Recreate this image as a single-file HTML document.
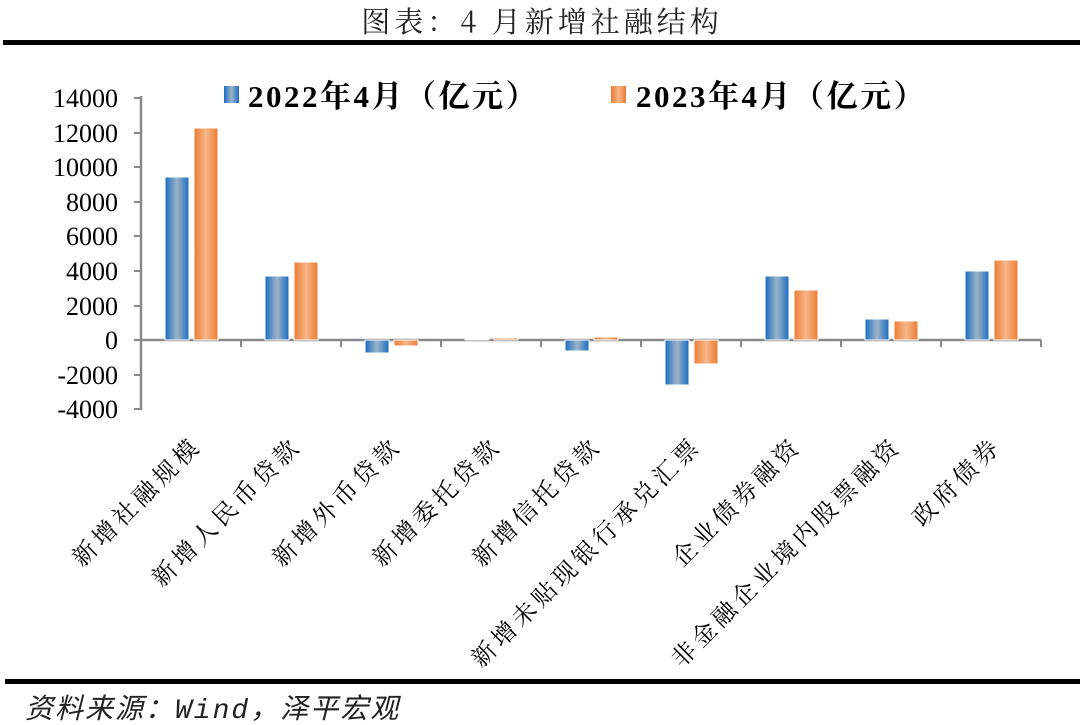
<!DOCTYPE html>
<html><head><meta charset="utf-8"><style>
html,body{margin:0;padding:0;background:#fff;}
svg{display:block;}
</style></head><body>
<svg width="1080" height="725" viewBox="0 0 1080 725" xmlns="http://www.w3.org/2000/svg">
<defs>
<linearGradient id="gb" x1="0" x2="1" y1="0" y2="0">
<stop offset="0" stop-color="#1a6cc4"/><stop offset="0.5" stop-color="#9db3c6"/><stop offset="1" stop-color="#1a6cc4"/>
</linearGradient>
<linearGradient id="go" x1="0" x2="1" y1="0" y2="0">
<stop offset="0" stop-color="#ed7b32"/><stop offset="0.5" stop-color="#f6b689"/><stop offset="1" stop-color="#ed7b32"/>
</linearGradient>
</defs>
<text x="542" y="32" text-anchor="middle" font-family="'Noto Serif CJK SC','WenQuanYi Zen Hei',serif" font-size="29" letter-spacing="4" fill="#222">图表：4 月新增社融结构</text>
<rect x="3" y="40" width="1077" height="5" fill="#000"/>
<rect x="5" y="679" width="1075" height="5" fill="#000"/>
<text x="25" y="718" font-family="'Liberation Mono','Noto Sans CJK SC',monospace" font-style="italic" font-size="28" letter-spacing="2" fill="#222">资料来源：Wind，泽平宏观</text>

<g stroke="#888" stroke-width="2.5">
<line x1="141" y1="96" x2="141" y2="410"/>
<line x1="141" y1="340" x2="1041" y2="340"/>
</g>
<g stroke="#888" stroke-width="2">
<line x1="134" y1="98" x2="141" y2="98"/><line x1="134" y1="133" x2="141" y2="133"/>
<line x1="134" y1="167" x2="141" y2="167"/><line x1="134" y1="202" x2="141" y2="202"/>
<line x1="134" y1="236" x2="141" y2="236"/><line x1="134" y1="271" x2="141" y2="271"/>
<line x1="134" y1="306" x2="141" y2="306"/><line x1="134" y1="340" x2="141" y2="340"/>
<line x1="134" y1="375" x2="141" y2="375"/><line x1="134" y1="409" x2="141" y2="409"/>
<line x1="241" y1="340" x2="241" y2="347"/><line x1="341" y1="340" x2="341" y2="347"/>
<line x1="441" y1="340" x2="441" y2="347"/><line x1="541" y1="340" x2="541" y2="347"/>
<line x1="641" y1="340" x2="641" y2="347"/><line x1="741" y1="340" x2="741" y2="347"/>
<line x1="841" y1="340" x2="841" y2="347"/><line x1="941" y1="340" x2="941" y2="347"/>
<line x1="1041" y1="340" x2="1041" y2="347"/>
</g>
<g font-family="'Liberation Serif',serif" font-size="26" fill="#000" text-anchor="end">
<text x="118" y="107">14000</text><text x="118" y="142">12000</text>
<text x="118" y="176">10000</text><text x="118" y="211">8000</text>
<text x="118" y="245">6000</text><text x="118" y="280">4000</text>
<text x="118" y="315">2000</text><text x="118" y="349">0</text>
<text x="118" y="384">-2000</text><text x="118" y="418">-4000</text>
</g>

<g stroke="#fff" stroke-width="1">
<rect x="165" y="177" width="24" height="163" fill="url(#gb)"/>
<rect x="194" y="128" width="24" height="212" fill="url(#go)"/>
<rect x="265" y="276" width="24" height="64" fill="url(#gb)"/>
<rect x="294" y="262" width="24" height="78" fill="url(#go)"/>
<rect x="365" y="340" width="24" height="13" fill="url(#gb)"/>
<rect x="394" y="340" width="24" height="6" fill="url(#go)"/>
<rect x="465" y="339" width="24" height="1" fill="url(#gb)"/>
<rect x="494" y="338" width="24" height="2" fill="url(#go)"/>
<rect x="565" y="340" width="24" height="11" fill="url(#gb)"/>
<rect x="594" y="337" width="24" height="3" fill="url(#go)"/>
<rect x="665" y="340" width="24" height="45" fill="url(#gb)"/>
<rect x="694" y="340" width="24" height="24" fill="url(#go)"/>
<rect x="765" y="276" width="24" height="64" fill="url(#gb)"/>
<rect x="794" y="290" width="24" height="50" fill="url(#go)"/>
<rect x="865" y="319" width="24" height="21" fill="url(#gb)"/>
<rect x="894" y="321" width="24" height="19" fill="url(#go)"/>
<rect x="965" y="271" width="24" height="69" fill="url(#gb)"/>
<rect x="994" y="260" width="24" height="80" fill="url(#go)"/>
</g>

<rect x="224" y="86" width="15" height="17" fill="url(#gb)"/>
<text x="248" y="107" font-family="'Liberation Serif','Noto Serif CJK SC',serif" font-weight="bold" font-size="31" letter-spacing="2.5" fill="#000">2022年4月（亿元）</text>
<rect x="611" y="86" width="15" height="17" fill="url(#go)"/>
<text x="636" y="107" font-family="'Liberation Serif','Noto Serif CJK SC',serif" font-weight="bold" font-size="31" letter-spacing="2.5" fill="#000">2023年4月（亿元）</text>

<g font-family="'Noto Serif CJK SC','Liberation Serif',serif" font-size="24" letter-spacing="4.5" fill="#000" text-anchor="end">
<text transform="translate(203,447) rotate(-45)">新增社融规模</text>
<text transform="translate(303,447) rotate(-45)">新增人民币贷款</text>
<text transform="translate(403,447) rotate(-45)">新增外币贷款</text>
<text transform="translate(503,447) rotate(-45)">新增委托贷款</text>
<text transform="translate(603,447) rotate(-45)">新增信托贷款</text>
<text transform="translate(703,447) rotate(-45)">新增未贴现银行承兑汇票</text>
<text transform="translate(803,447) rotate(-45)">企业债券融资</text>
<text transform="translate(903,447) rotate(-45)">非金融企业境内股票融资</text>
<text transform="translate(1003,447) rotate(-45)">政府债券</text>
</g>
</svg>
</body></html>
